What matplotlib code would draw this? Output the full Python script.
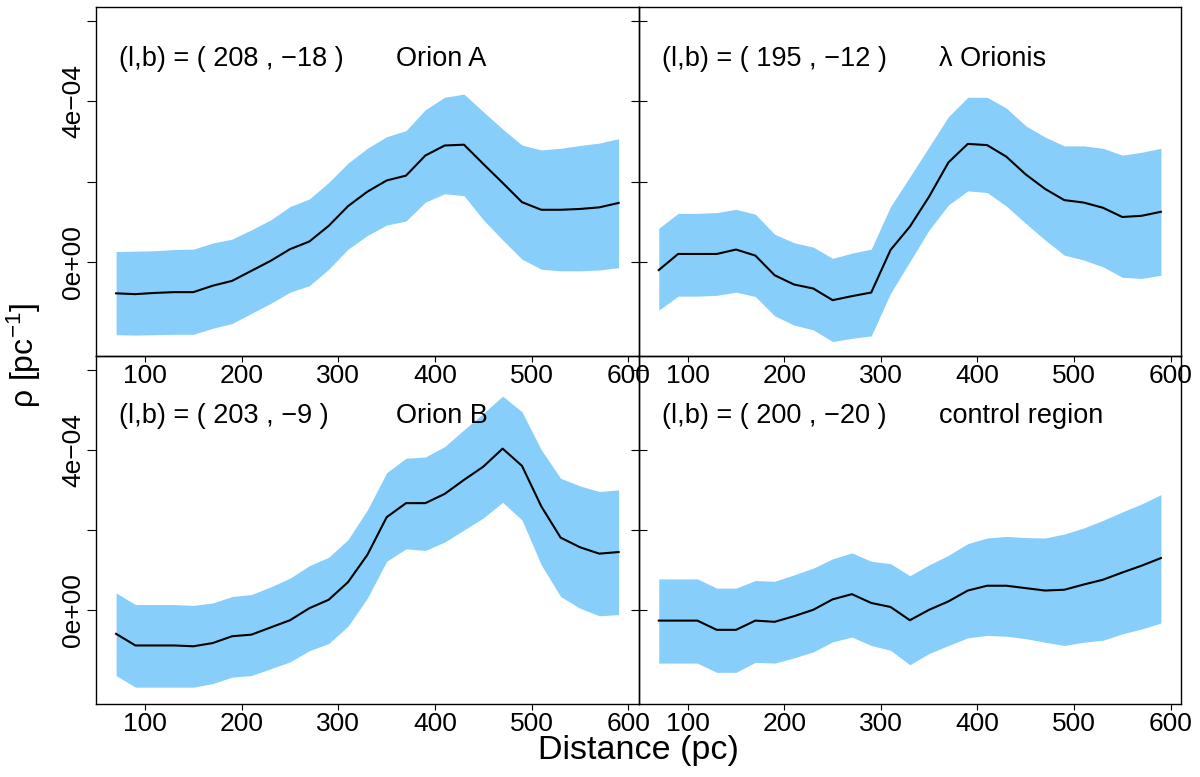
import numpy as np
import matplotlib
matplotlib.use("Agg")
import matplotlib.pyplot as plt

## Fonts
plt.rcParams['font.family'] = ['Liberation Sans', 'DejaVu Sans']
plt.rcParams['mathtext.fontset'] = 'custom'
plt.rcParams['mathtext.rm'] = 'Liberation Sans'
plt.rcParams['mathtext.it'] = 'Liberation Sans:italic'

## Data (density values in units of 1e-4 pc^-1)
scale = 1e-4
distance = [70, 90, 110, 130, 150, 170, 190, 210, 230, 250, 270, 290, 310, 330,
            350, 370, 390, 410, 430, 450, 470, 490, 510, 530, 550, 570, 590]

orionA_mean = [-0.78, -0.80, -0.77, -0.75, -0.75, -0.59, -0.47, -0.22, 0.03, 0.32, 0.51, 0.90, 1.39, 1.75,
               2.03, 2.15, 2.65, 2.90, 2.92, 2.44, 1.97, 1.49, 1.30, 1.30, 1.32, 1.36, 1.47]
orionA_upper = [0.26, 0.27, 0.28, 0.31, 0.32, 0.47, 0.57, 0.80, 1.05, 1.38, 1.57, 1.98, 2.46, 2.83,
                3.12, 3.27, 3.79, 4.10, 4.18, 3.74, 3.31, 2.91, 2.79, 2.83, 2.90, 2.96, 3.07]
orionA_lower = [-1.81, -1.82, -1.81, -1.80, -1.80, -1.65, -1.53, -1.28, -1.03, -0.75, -0.59, -0.18, 0.32, 0.66,
                0.92, 1.02, 1.49, 1.70, 1.65, 1.05, 0.55, 0.07, -0.18, -0.22, -0.22, -0.20, -0.14]

lamOri_mean = [-0.20, 0.20, 0.20, 0.20, 0.31, 0.16, -0.33, -0.56, -0.66, -0.95, -0.85, -0.76, 0.30, 0.88,
               1.63, 2.48, 2.94, 2.91, 2.62, 2.18, 1.82, 1.54, 1.48, 1.35, 1.12, 1.15, 1.25]
lamOri_upper = [0.84, 1.21, 1.21, 1.23, 1.31, 1.19, 0.69, 0.48, 0.37, 0.09, 0.22, 0.32, 1.38, 2.12,
                2.87, 3.62, 4.10, 4.10, 3.83, 3.39, 3.11, 2.89, 2.89, 2.83, 2.66, 2.73, 2.83]
lamOri_lower = [-1.20, -0.85, -0.85, -0.83, -0.75, -0.86, -1.34, -1.57, -1.69, -1.98, -1.90, -1.84, -0.78, 0.01,
                0.80, 1.42, 1.77, 1.73, 1.39, 0.96, 0.55, 0.17, 0.05, -0.12, -0.38, -0.41, -0.33]

orionB_mean = [-0.59, -0.88, -0.88, -0.88, -0.90, -0.82, -0.65, -0.61, -0.43, -0.25, 0.05, 0.26, 0.70, 1.38,
               2.32, 2.67, 2.67, 2.90, 3.25, 3.58, 4.03, 3.60, 2.59, 1.81, 1.57, 1.41, 1.45]
orionB_upper = [0.43, 0.14, 0.14, 0.14, 0.12, 0.18, 0.34, 0.39, 0.58, 0.80, 1.11, 1.32, 1.76, 2.50,
                3.43, 3.79, 3.82, 4.08, 4.50, 4.91, 5.34, 4.95, 4.00, 3.29, 3.10, 2.96, 3.00]
orionB_lower = [-1.63, -1.92, -1.92, -1.92, -1.92, -1.83, -1.67, -1.63, -1.46, -1.29, -1.01, -0.83, -0.40, 0.30,
                1.22, 1.53, 1.49, 1.70, 2.00, 2.30, 2.69, 2.25, 1.13, 0.34, 0.05, -0.14, -0.11]

control_mean = [-0.26, -0.26, -0.26, -0.49, -0.49, -0.26, -0.29, -0.15, 0.01, 0.27, 0.40, 0.18, 0.08, -0.25,
                0.01, 0.22, 0.49, 0.61, 0.61, 0.55, 0.49, 0.51, 0.64, 0.76, 0.94, 1.11, 1.30]
control_upper = [0.78, 0.78, 0.78, 0.55, 0.55, 0.74, 0.72, 0.88, 1.05, 1.28, 1.43, 1.22, 1.16, 0.86,
                 1.13, 1.37, 1.66, 1.80, 1.84, 1.81, 1.80, 1.90, 2.05, 2.24, 2.45, 2.65, 2.88]
control_lower = [-1.32, -1.32, -1.32, -1.55, -1.55, -1.30, -1.32, -1.19, -1.04, -0.79, -0.67, -0.88, -1.00, -1.36,
                 -1.08, -0.88, -0.69, -0.63, -0.65, -0.71, -0.80, -0.88, -0.80, -0.75, -0.59, -0.47, -0.32]

coords = ["(l,b) = ( 208 , \u221218 )", "(l,b) = ( 195 , \u221212 )",
          "(l,b) = ( 203 , \u22129 )", "(l,b) = ( 200 , \u221220 )"]
names = ["Orion A", "\u03bb Orionis", "Orion B", "control region"]

x_ticks = [100, 200, 300, 400, 500, 600]
y_ticks = [0, 2e-4, 4e-4, 6e-4]
y_ticklabels = ["0e+00", "", "4e\u221204", ""]

## Figure layout (four panels sharing edges)
fig = plt.figure(figsize=(12, 7.77), dpi=100)
x0, xm, x1 = 0.08, 0.53225, 0.98417
y0, ym, y1 = 0.09395, 0.54183, 0.9906
boxes = [[x0, ym, xm - x0, y1 - ym], [xm, ym, x1 - xm, y1 - ym],
         [x0, y0, xm - x0, ym - y0], [xm, y0, x1 - xm, ym - y0]]

panels = [(orionA_mean, orionA_upper, orionA_lower),
          (lamOri_mean, lamOri_upper, lamOri_lower),
          (orionB_mean, orionB_upper, orionB_lower),
          (control_mean, control_upper, control_lower)]
label_y = [5.06e-4, 5.06e-4, 4.85e-4, 4.85e-4]

for i, (mean, upper, lower) in enumerate(panels):
    ax = fig.add_axes(boxes[i])
    ax.set_facecolor('none')  # keep neighbouring tick labels visible
    ax.fill_between(distance, np.array(lower) * scale, np.array(upper) * scale,
                    color='#87CEFA', linewidth=0)
    ax.plot(distance, np.array(mean) * scale, color='black', linewidth=1.5)

    ax.set_xlim(49.2, 610.8)
    ax.set_ylim(-2.34e-4, 6.34e-4)
    ax.set_xticks(x_ticks)
    ax.set_xticklabels([str(t) for t in x_ticks])
    ax.set_yticks(y_ticks)
    ax.tick_params(axis='x', direction='out', length=4.5, width=0.8, pad=1.5, labelsize=19)
    if i % 2 == 0:
        ax.set_yticklabels(y_ticklabels, rotation=90, va='center', ha='right')
        ax.tick_params(axis='y', direction='out', length=6.3, width=0.8, pad=1.5, labelsize=19)
    else:
        ax.set_yticklabels([])
        ax.tick_params(axis='y', direction='inout', length=12, width=0.8)
    for sp in ax.spines.values():
        sp.set_linewidth(1.0)

    ax.text(73, label_y[i], coords[i], fontsize=19.5, ha='left', va='center')
    ax.text(360, label_y[i], names[i], fontsize=19.5, ha='left', va='center')

## Shared axis labels
fig.text(24 / 1200, 1 - 355 / 777, "\u03c1 [pc$^{-1}$]", fontsize=23,
         rotation=90, ha='center', va='center')
fig.text(638 / 1200, 1 - 750 / 777, "Distance (pc)", fontsize=24.5,
         ha='center', va='center')

fig.savefig("out.png", dpi=100)
